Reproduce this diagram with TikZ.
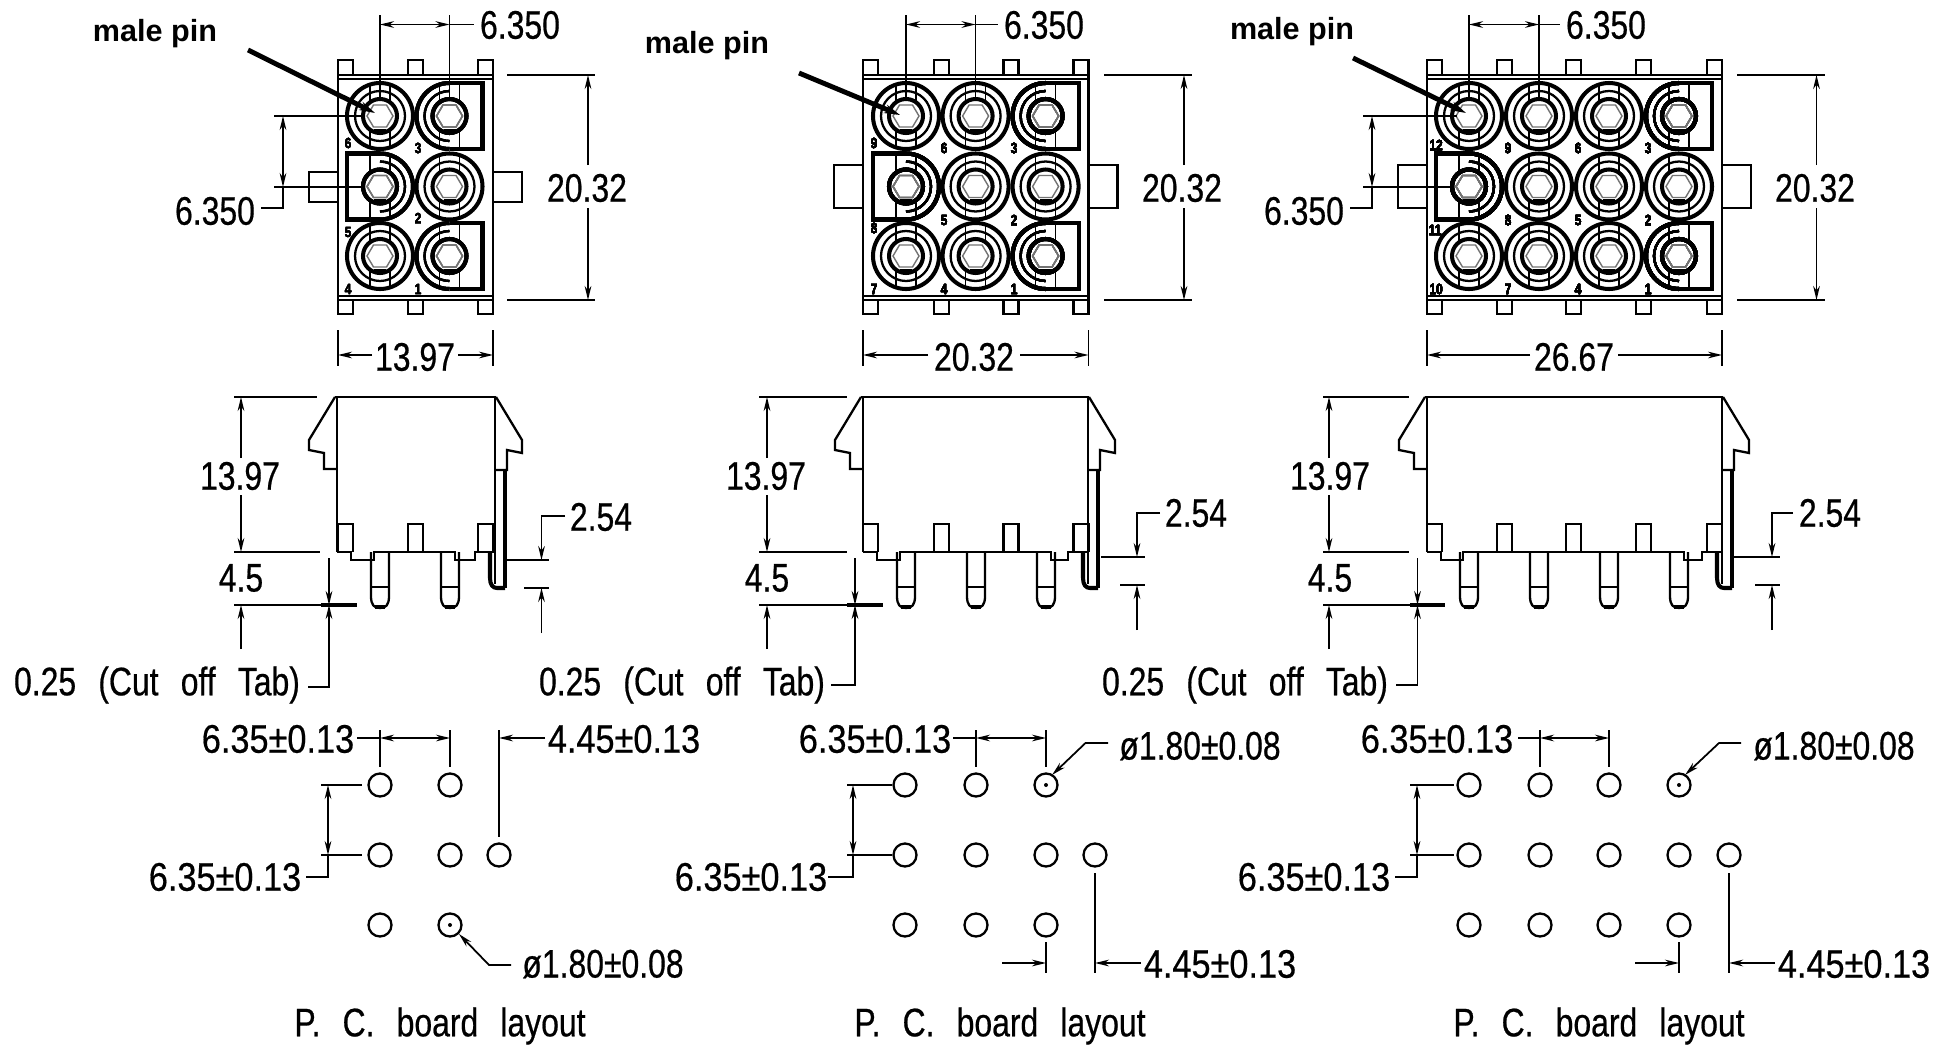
\documentclass[tikz,border=0pt]{standalone}
\usepackage{fontspec}
\usetikzlibrary{arrows.meta}
\setmainfont{Liberation Sans}
\newfontfamily\dimfont[FakeStretch=0.8,FakeBold=0.5,WordSpace=2.5]{Liberation Sans}
\newfontfamily\boardfont[FakeStretch=0.86,FakeBold=0.5]{Liberation Sans}

\tikzset{
  dimtip/.tip={Stealth[length=8pt,width=3.8pt]},
  outline/.style={color=black,line width=1.3pt},
  pinring/.style={color=black,line width=2.3pt},
  pinmid/.style={color=black,line width=1.3pt},
  pinthin/.style={color=black,line width=0.9pt},
  pinhex/.style={color=black!55,line width=0.8pt},
  dimline/.style={color=black,line width=1pt},
  heavyline/.style={color=black,line width=2.8pt},
  dimtext/.style={inner sep=0pt,font=\dimfont\fontsize{22.7}{24}\selectfont},
  boardtext/.style={inner sep=0pt,font=\boardfont\fontsize{22.7}{24}\selectfont},
  pinnum/.style={inner sep=0pt,font=\dimfont\bfseries\fontsize{8.5}{9}\selectfont},
  pinlabel/.style={inner sep=0pt,font=\bfseries\fontsize{17.4}{19}\selectfont}
}

% hex contact in the middle of every cavity
\newcommand{\pincore}[2]{
  \draw[pinring] (#1,#2) circle[radius=17];
  \draw[pinhex] (#1-13,#2) -- (#1-6.5,#2-11) -- (#1+6.5,#2-11) -- (#1+13,#2) -- (#1+6.5,#2+11) -- (#1-6.5,#2+11) -- cycle;
  \draw[pinmid] (#1-6,#2+14) -- (#1+6,#2+14);
}
\newcommand{\pinround}[2]{
  \draw[pinring] (#1,#2) circle[radius=33];
  \draw[pinmid] (#1,#2) circle[radius=25];
  \draw[pinthin] (#1-10,#2-32) -- (#1-10,#2-15);
  \draw[pinthin] (#1+10,#2-32) -- (#1+10,#2-15);
  \draw[pinthin] (#1-10,#2+15) -- (#1-10,#2+32);
  \draw[pinthin] (#1+10,#2+15) -- (#1+10,#2+32);
  \pincore{#1}{#2}
}
\newcommand{\pinsquare}[3]{
  \draw[pinring] (#1,#2-33) -- (#1+#3*33,#2-33) -- (#1+#3*33,#2+33) -- (#1,#2+33);
  \draw[pinring] (#1,#2-33) arc[start angle=270,delta angle=-#3*180,radius=33];
  \draw[pinmid] (#1,#2-25) arc[start angle=270,delta angle=-#3*180,radius=25];
  \draw[pinthin] (#1-10,#2-33) -- (#1-10,#2-15);
  \draw[pinthin] (#1+10,#2-33) -- (#1+10,#2-15);
  \draw[pinthin] (#1-10,#2+15) -- (#1-10,#2+33);
  \draw[pinthin] (#1+10,#2+15) -- (#1+10,#2+33);
  \pincore{#1}{#2}
}
% shell seen from above: left, right, tab list, side tab top, side tab bottom
\newcommand{\topshell}[5]{
  \draw[outline] (#1,75) rectangle (#2,300);
  \draw[pinthin] (#1,79) -- (#2,79);
  \draw[pinthin] (#1,296) -- (#2,296);
  \foreach \t in {#3} {
    \draw[outline] (\t,75) -- (\t,60) -- (\t+15,60) -- (\t+15,75);
    \draw[outline] (\t,300) -- (\t,314) -- (\t+15,314) -- (\t+15,300);
  }
  \draw[outline] (#1,#4) -- (#1-29,#4) -- (#1-29,#5) -- (#1,#5);
  \draw[outline] (#2,#4) -- (#2+29,#4) -- (#2+29,#5) -- (#2,#5);
}
% shell seen from the side: left, right, first pin, last pin, pin list, tab list
\newcommand{\sideview}[6]{
  \draw[outline] (#1-2,397) -- (#2+1,397);
  \draw[outline] (#1,397) -- (#1,552);
  \draw[outline] (#2,397) -- (#2,552);
  \draw[outline] (#1-2,397) -- (#1-28,440) -- (#1-28,450) -- (#1-13,453) -- (#1-13,469) -- (#1,469);
  \draw[outline] (#2+1,397) -- (#2+27,440) -- (#2+27,453) -- (#2+12,450) -- (#2+12,470) -- (#2,470);
  \draw[outline] (#1,552) -- (#1+14,552) -- (#1+14,560) -- (#3-6,560) -- (#3-6,552) -- (#4+5,552) -- (#4+5,560) -- (#2-20,560) -- (#2-20,552) -- (#2,552);
  \foreach \t in {#6} \draw[outline] (\t,552) -- (\t,524) -- (\t+15,524) -- (\t+15,552);
  \foreach \p in {#5} {
    \draw[outline] (\p-9,552) -- (\p-9,596) .. controls (\p-9,605) and (\p-6,608) .. (\p,608) .. controls (\p+6,608) and (\p+9,605) .. (\p+9,596) -- (\p+9,552);
    \draw[pinthin] (\p-9,587) -- (\p+9,587);
    \draw[pinring] (\p-5,607) -- (\p+5,607);
  }
  \draw[heavyline] (#2+10,470) -- (#2+10,588);
  \draw[outline] (#2,552) -- (#2,584);
  \draw[pinring] (#2-5,552) -- (#2-5,578) .. controls (#2-5,585) and (#2-2,588) .. (#2+2,588) -- (#2+10,588);
}

\begin{document}
\begin{tikzpicture}[x=0.02cm,y=-0.02cm,>=dimtip]
\useasboundingbox (0,0) rectangle (1948,1048);

% top views
\topshell{338}{493}{338,408,478}{172}{202}
\foreach \x/\y in {380/116,380/256,449.5/186.5} \pinround{\x}{\y}
\pinsquare{449.5}{116}{1}
\pinsquare{449.5}{256}{1}
\pinsquare{380}{186.5}{-1}
\foreach \n/\x/\y in {6/348/143,3/418/148,2/418/218,5/348/232,4/348/289,1/418/289}
  \node[pinnum] (numA\n) at (\x,\y) {\n};

\topshell{863}{1088.5}{863,934,1003.5,1073.5}{165}{208}
\foreach \x/\y in {906/116,975.6/116,975.6/186.5,1045.6/186.5,906/256,975.6/256} \pinround{\x}{\y}
\pinsquare{1045.6}{116}{1}
\pinsquare{1045.6}{256}{1}
\pinsquare{906}{186.5}{-1}
\foreach \n/\x/\y in {9/874/143,6/944/148,3/1014/148,5/944/220,2/1014/220,8/874/228,7/874/289,4/944/289,1/1014/289}
  \node[pinnum] (numB\n) at (\x,\y) {\n};

\topshell{1427}{1722}{1427,1497,1566,1636,1707}{165}{208}
\foreach \x/\y in {1469/116,1539/116,1609/116,1539/186.5,1609/186.5,1679/186.5,1469/256,1539/256,1609/256} \pinround{\x}{\y}
\pinsquare{1679}{116}{1}
\pinsquare{1679}{256}{1}
\pinsquare{1469}{186.5}{-1}
\foreach \n/\x/\y in {12/1436/145,9/1508/148,6/1578/148,3/1648/148,11/1435/230,8/1508/220,5/1578/220,2/1648/220,10/1436/289,7/1508/289,4/1578/289,1/1648/289}
  \node[pinnum] (numC\n) at (\x,\y) {\n};

% male pin leaders
\node[pinlabel] (maleA) at (155,34) {male pin};
\draw[heavyline,-{Stealth[length=9pt,width=5pt]}] (248,50) -- (375,113);
\node[pinlabel] (maleB) at (707,46) {male pin};
\draw[heavyline,-{Stealth[length=9pt,width=5pt]}] (799,73) -- (900,115);
\node[pinlabel] (maleC) at (1292,32) {male pin};
\draw[heavyline,-{Stealth[length=9pt,width=5pt]}] (1353,58) -- (1466,113);

% pitch over the top
\draw[dimline] (380,15) -- (380,100);
\draw[dimline] (449.5,15) -- (449.5,100);
\draw[dimline,<->] (380,24.5) -- (449.5,24.5);
\draw[dimline] (449.5,24.5) -- (474,24.5);
\node[dimtext] (pitchA) at (520,25) {6.350};
\draw[dimline] (906,15) -- (906,100);
\draw[dimline] (975.6,15) -- (975.6,100);
\draw[dimline,<->] (906,24.5) -- (975.6,24.5);
\draw[dimline] (975.6,24.5) -- (998,24.5);
\node[dimtext] (pitchB) at (1044,25) {6.350};
\draw[dimline] (1469,15) -- (1469,100);
\draw[dimline] (1539,15) -- (1539,100);
\draw[dimline,<->] (1469,24.5) -- (1539,24.5);
\draw[dimline] (1539,24.5) -- (1560,24.5);
\node[dimtext] (pitchC) at (1606,25) {6.350};

% pitch on the left
\draw[dimline] (274,116) -- (364,116);
\draw[dimline] (274,187) -- (364,187);
\draw[dimline,<->] (283,116) -- (283,187);
\draw[dimline] (283,187) -- (283,208) -- (261,208);
\node[dimtext] (rowA) at (215,211) {6.350};
\draw[dimline] (1363,116) -- (1457,116);
\draw[dimline] (1363,187) -- (1452,187);
\draw[dimline,<->] (1372,116) -- (1372,187);
\draw[dimline] (1372,187) -- (1372,208) -- (1350,208);
\node[dimtext] (rowC) at (1304,211) {6.350};

% height of the face
\draw[outline] (507,75) -- (595,75);
\draw[outline] (507,300) -- (595,300);
\draw[dimline,->] (588,165) -- (588,75);
\draw[dimline,->] (588,208) -- (588,300);
\node[dimtext] (heightA) at (587,188) {20.32};
\draw[outline] (1104,75) -- (1192,75);
\draw[outline] (1104,300) -- (1192,300);
\draw[dimline,->] (1184,165) -- (1184,75);
\draw[dimline,->] (1184,208) -- (1184,300);
\node[dimtext] (heightB) at (1182,188) {20.32};
\draw[outline] (1737,75) -- (1825,75);
\draw[outline] (1737,300) -- (1825,300);
\draw[dimline,->] (1816.5,165) -- (1816.5,75);
\draw[dimline,->] (1816.5,208) -- (1816.5,300);
\node[dimtext] (heightC) at (1815,188) {20.32};

% width of the shell
\draw[dimline] (338,330) -- (338,366);
\draw[dimline] (493,330) -- (493,366);
\draw[dimline,->] (372,355) -- (338,355);
\draw[dimline,->] (458,355) -- (493,355);
\node[dimtext] (widthA) at (415,357) {13.97};
\draw[dimline] (863,330) -- (863,366);
\draw[dimline] (1088.5,330) -- (1088.5,366);
\draw[dimline,->] (928,355) -- (863,355);
\draw[dimline,->] (1020,355) -- (1088.5,355);
\node[dimtext] (widthB) at (974,357) {20.32};
\draw[dimline] (1427,330) -- (1427,366);
\draw[dimline] (1722,330) -- (1722,366);
\draw[dimline,->] (1530,355) -- (1427,355);
\draw[dimline,->] (1618,355) -- (1722,355);
\node[dimtext] (widthC) at (1574,357) {26.67};

% side views
\sideview{337}{495}{380}{450}{380,450}{338,408,478}
\sideview{863}{1088}{906}{1046}{906,976,1046}{863,934,1003.5,1073.5}
\sideview{1427}{1722}{1469}{1679}{1469,1539,1609,1679}{1427,1497,1566,1636,1707}

% height, tail and cut off tab
\draw[outline] (234,397) -- (317,397);
\draw[outline] (234,552) -- (320,552);
\draw[dimline,->] (241,458) -- (241,397);
\draw[dimline,->] (241,495) -- (241,552);
\node[dimtext] (tallA) at (240,476) {13.97};
\node[dimtext] (tailA) at (241,578) {4.5};
\draw[outline] (234,605) -- (321,605);
\draw[heavyline] (321,605) -- (357,605);
\draw[dimline,->] (241,649) -- (241,605);
\draw[dimline,->] (329,558) -- (329,605);
\draw[dimline,->] (308,687) -- (329,687) -- (329,605);
\node[dimtext] (cutA) at (157,685) {0.25 (Cut off Tab)};

\draw[outline] (759,397) -- (847,397);
\draw[outline] (759,552) -- (847,552);
\draw[dimline,->] (767,458) -- (767,397);
\draw[dimline,->] (767,495) -- (767,552);
\node[dimtext] (tallB) at (766,476) {13.97};
\node[dimtext] (tailB) at (767,578) {4.5};
\draw[outline] (759,605) -- (847,605);
\draw[heavyline] (847,605) -- (883,605);
\draw[dimline,->] (767,649) -- (767,605);
\draw[dimline,->] (855,558) -- (855,605);
\draw[dimline,->] (831,685) -- (855,685) -- (855,605);
\node[dimtext] (cutB) at (682,685) {0.25 (Cut off Tab)};

\draw[outline] (1323,397) -- (1409,397);
\draw[outline] (1323,552) -- (1409,552);
\draw[dimline,->] (1329,458) -- (1329,397);
\draw[dimline,->] (1329,495) -- (1329,552);
\node[dimtext] (tallC) at (1330,476) {13.97};
\node[dimtext] (tailC) at (1330,578) {4.5};
\draw[outline] (1323,605) -- (1410,605);
\draw[heavyline] (1410,605) -- (1445,605);
\draw[dimline,->] (1329,649) -- (1329,605);
\draw[dimline,->] (1417.5,558) -- (1417.5,605);
\draw[dimline,->] (1396,685) -- (1417.5,685) -- (1417.5,605);
\node[dimtext] (cutC) at (1245,685) {0.25 (Cut off Tab)};

% contact tail
\draw[outline] (504,560) -- (549,560);
\draw[outline] (524,588) -- (549,588);
\draw[dimline,->] (565,516) -- (541.5,516) -- (541.5,560);
\draw[dimline,->] (541.5,633) -- (541.5,588);
\node[dimtext] (tabA) at (601,517) {2.54};
\draw[outline] (1101,557) -- (1145,557);
\draw[outline] (1120,585) -- (1145,585);
\draw[dimline,->] (1160,513) -- (1137,513) -- (1137,557);
\draw[dimline,->] (1137,630) -- (1137,585);
\node[dimtext] (tabB) at (1196,513) {2.54};
\draw[outline] (1733,557) -- (1780,557);
\draw[outline] (1755,585) -- (1780,585);
\draw[dimline,->] (1793,513) -- (1772,513) -- (1772,557);
\draw[dimline,->] (1772,630) -- (1772,585);
\node[dimtext] (tabC) at (1830,513) {2.54};

% board holes
\foreach \x/\y in {380/785,450/785,380/855,450/855,499/855,380/925,450/925,
  905/785,976/785,1046/785,905/855,976/855,1046/855,1095/855,905/925,976/925,1046/925,
  1469/785,1540/785,1609/785,1679/785,1469/855,1540/855,1609/855,1679/855,1729/855,1469/925,1540/925,1609/925,1679/925}
  \draw[outline] (\x,\y) circle[radius=11.5];
\foreach \x/\y in {450/925,1046/785,1679/785} \fill[color=black] (\x,\y) circle[radius=2];

% board dimensions
\draw[dimline] (380,730) -- (380,767);
\draw[dimline] (450,730) -- (450,767);
\draw[dimline,<->] (380,738) -- (450,738);
\draw[dimline] (357,738) -- (380,738);
\node[boardtext] (holeA) at (278,739) {6.35±0.13};
\draw[dimline] (499,730) -- (499,837);
\draw[dimline,->] (545,738) -- (499,738);
\node[boardtext] (edgeA) at (624,739) {4.45±0.13};
\draw[dimline] (321,785) -- (362,785);
\draw[dimline] (321,855) -- (362,855);
\draw[dimline,<->] (328,785) -- (328,855);
\draw[dimline] (328,855) -- (328,877) -- (306,877);
\node[boardtext] (rowholeA) at (225,877) {6.35±0.13};
\draw[dimline,->] (511,965) -- (489,965) -- (459,934);
\node[dimtext] (diaA) at (603,964) {ø1.80±0.08};
\node[dimtext] (titleA) at (440,1026) {P. C. board layout};

\draw[dimline] (976,730) -- (976,767);
\draw[dimline] (1046,730) -- (1046,767);
\draw[dimline,<->] (976,738) -- (1046,738);
\draw[dimline] (953,738) -- (976,738);
\node[boardtext] (holeB) at (875,739) {6.35±0.13};
\draw[dimline,->] (1108,743) -- (1085.5,743) -- (1052,775);
\node[dimtext] (diaB) at (1200,746) {ø1.80±0.08};
\draw[dimline] (847,785) -- (892,785);
\draw[dimline] (847,855) -- (892,855);
\draw[dimline,<->] (853,785) -- (853,855);
\draw[dimline] (853,855) -- (853,877) -- (828,877);
\node[boardtext] (rowholeB) at (751,877) {6.35±0.13};
\draw[dimline] (1046,942) -- (1046,973);
\draw[dimline,->] (1002,963) -- (1046,963);
\draw[dimline] (1095,873) -- (1095,973);
\draw[dimline,->] (1141,963) -- (1095,963);
\node[boardtext] (edgeB) at (1220,964) {4.45±0.13};
\node[dimtext] (titleB) at (1000,1026) {P. C. board layout};

\draw[dimline] (1540,730) -- (1540,767);
\draw[dimline] (1609,730) -- (1609,767);
\draw[dimline,<->] (1540,738) -- (1609,738);
\draw[dimline] (1518,738) -- (1540,738);
\node[boardtext] (holeC) at (1437,739) {6.35±0.13};
\draw[dimline,->] (1741,743) -- (1719,743) -- (1685,775);
\node[dimtext] (diaC) at (1834,746) {ø1.80±0.08};
\draw[dimline] (1410,785) -- (1454,785);
\draw[dimline] (1410,855) -- (1454,855);
\draw[dimline,<->] (1417,785) -- (1417,855);
\draw[dimline] (1417,855) -- (1417,877) -- (1395,877);
\node[boardtext] (rowholeC) at (1314,877) {6.35±0.13};
\draw[dimline] (1679,942) -- (1679,973);
\draw[dimline,->] (1635,963) -- (1679,963);
\draw[dimline] (1729,873) -- (1729,973);
\draw[dimline,->] (1775,963) -- (1729,963);
\node[boardtext] (edgeC) at (1854,964) {4.45±0.13};
\node[dimtext] (titleC) at (1599,1026) {P. C. board layout};
\end{tikzpicture}
\end{document}
